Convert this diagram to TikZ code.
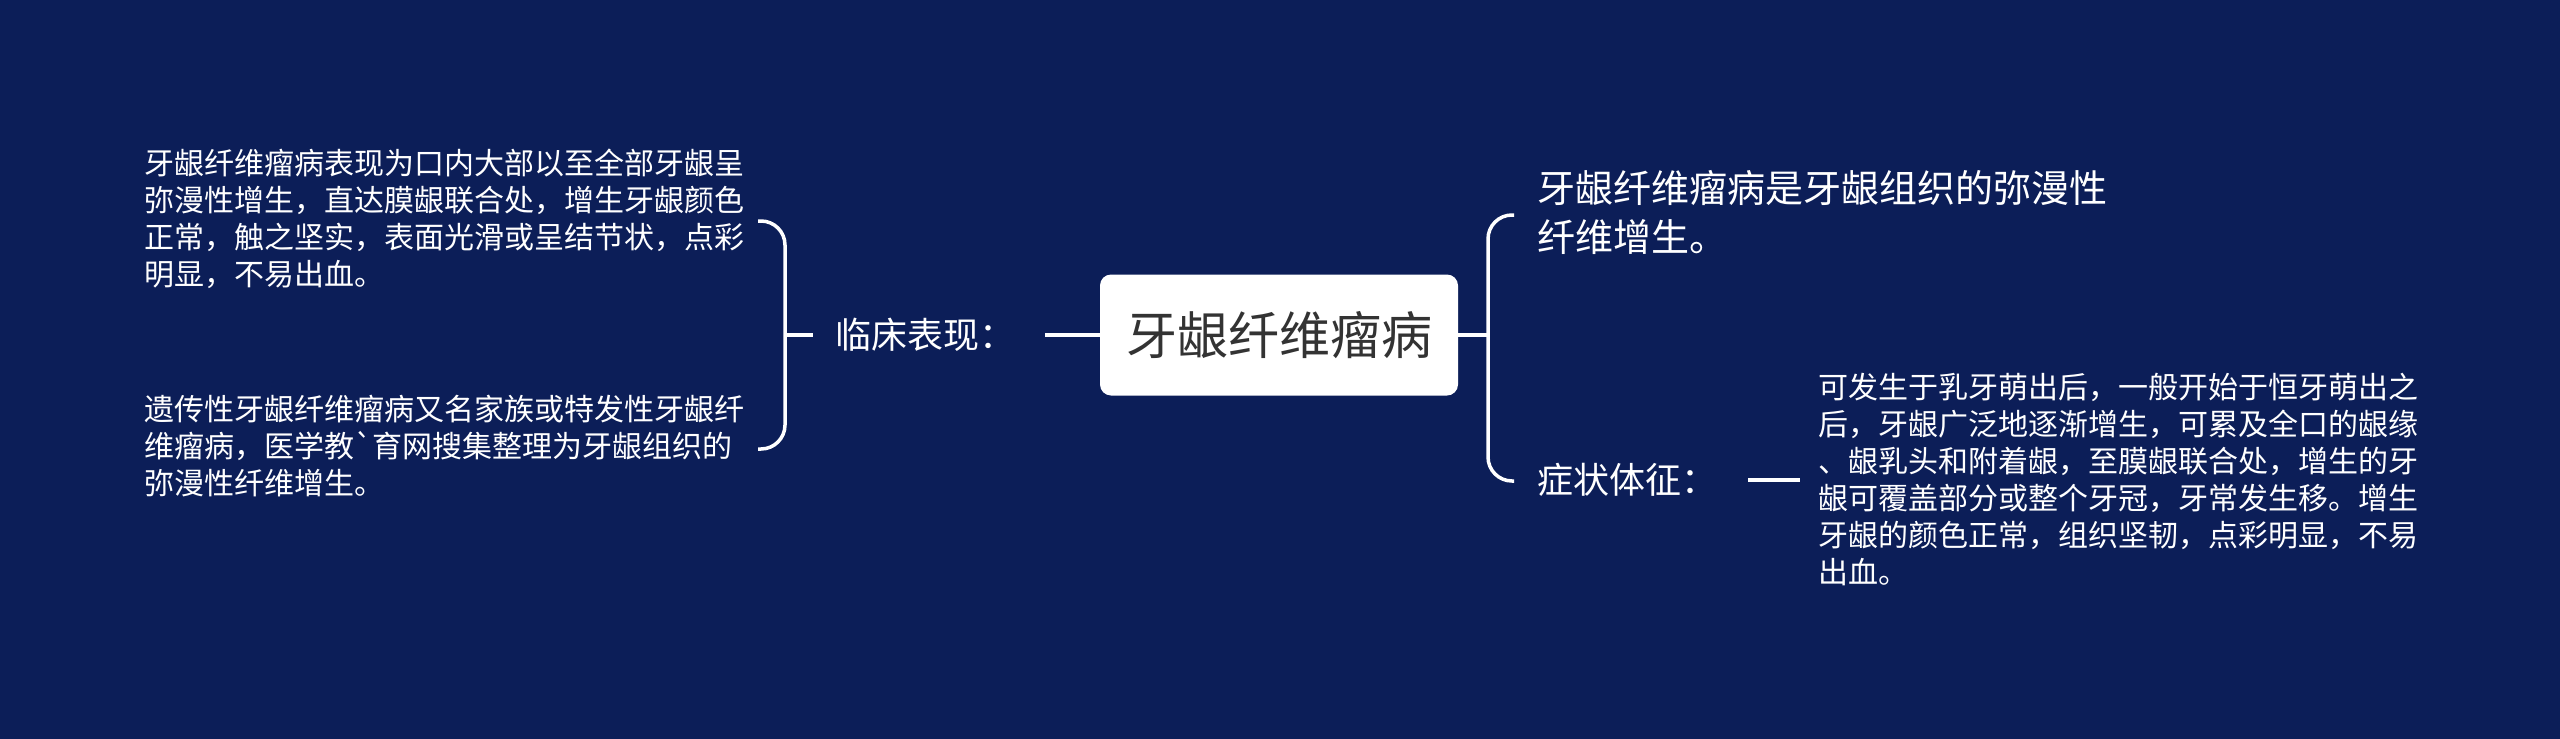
\documentclass[tikz,border=0pt]{standalone}
\usepackage{fontspec}
\newfontfamily\cjk{Noto Sans CJK SC}[Ligatures=ResetAll]
\definecolor{bg}{RGB}{12,30,88}
\definecolor{titlegray}{RGB}{51,51,51}
\begin{document}
\begin{tikzpicture}[x=1pt,y=-1pt,
  conn/.style={draw=white,line width=3.5pt},
  bracket/.style={conn,rounded corners=24pt},
  titlebox/.style={fill=white,rounded corners=11pt,minimum width=358pt,minimum height=121pt,inner sep=0pt,text=titlegray,font=\cjk\fontsize{51pt}{60pt}\selectfont},
  label/.style={text=white,inner sep=0pt,anchor=west,font=\cjk\fontsize{36pt}{44pt}\selectfont},
  leaf/.style={text=white,inner sep=0pt,anchor=west,align=left,font=\cjk\fontsize{30pt}{37pt}\selectfont},
  bigleaf/.style={text=white,inner sep=0pt,anchor=west,align=left,font=\cjk\fontsize{38pt}{49pt}\selectfont}]
\fill[bg] (0,0) rectangle (2560,739);
\useasboundingbox (0,0) rectangle (2560,739);

\node[titlebox] (T) at (1279,335) {牙龈纤维瘤病};

\node[label] (L) at (835,335) {临床表现：};
\node[leaf] (t1) at (144,219) {牙龈纤维瘤病表现为口内大部以至全部牙龈呈\\弥漫性增生，直达膜龈联合处，增生牙龈颜色\\正常，触之坚实，表面光滑或呈结节状，点彩\\明显，不易出血。};
\node[leaf] (t2) at (144,446) {遗传性牙龈纤维瘤病又名家族或特发性牙龈纤\\维瘤病，医学教`育网搜集整理为牙龈组织的\\弥漫性纤维增生。};

\node[bigleaf] (R1) at (1537,212) {牙龈纤维瘤病是牙龈组织的弥漫性\\纤维增生。};
\node[label] (S) at (1537,480) {症状体征：};
\node[leaf] (t3) at (1818,479) {可发生于乳牙萌出后，一般开始于恒牙萌出之\\后，牙龈广泛地逐渐增生，可累及全口的龈缘\\、龈乳头和附着龈，至膜龈联合处，增生的牙\\龈可覆盖部分或整个牙冠，牙常发生移。增生\\牙龈的颜色正常，组织坚韧，点彩明显，不易\\出血。};

% connector centre -> 临床表现
\coordinate (a1) at (1045,335);
\draw[conn] (T.west) -- (a1);
% left bracket
\coordinate (lb1) at (758,221);
\coordinate (lb2) at (758,449);
\coordinate (lbm) at (785,335);
\coordinate (lbt) at (813,335);
\draw[bracket] (lb1) -- (785,221) -- (785,449) -- (lb2);
\draw[conn] (lbm) -- (lbt);

% right bracket
\coordinate (rbm) at (1488,335);
\coordinate (rb1) at (1514,215);
\coordinate (rb2) at (1514,481);
\draw[conn] (T.east) -- (rbm);
\draw[bracket] (rb1) -- (1488,215) -- (1488,481) -- (rb2);

% 症状体征 -> leaf
\coordinate (s1) at (1748,480);
\coordinate (s2) at (1800,480);
\draw[conn] (s1) -- (s2);
\end{tikzpicture}
\end{document}
